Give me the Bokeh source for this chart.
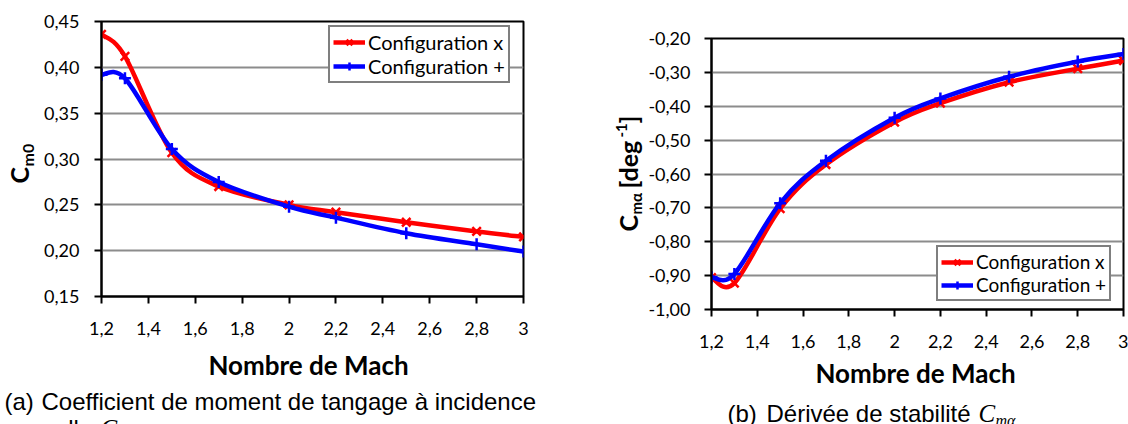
import math
from bokeh.plotting import figure
from bokeh.models import (Range1d, FixedTicker, CustomJSTickFormatter,
                          Legend, LegendItem)
from bokeh.core.properties import value
from bokeh.layouts import row, column
from bokeh.embed import file_html
from bokeh.resources import INLINE

# ---------------- data ----------------
mach = [1.2, 1.3, 1.5, 1.7, 2.0, 2.2, 2.5, 2.8, 3.0]
cm0_config_x = [0.436, 0.412, 0.307, 0.270, 0.250, 0.242, 0.231, 0.221, 0.215]
cm0_config_plus = [0.392, 0.388, 0.311, 0.275, 0.248, 0.236, 0.219, 0.207, 0.199]
cma_config_x = [-0.906, -0.922, -0.702, -0.572, -0.447, -0.391, -0.329, -0.289, -0.265]
cma_config_plus = [-0.905, -0.895, -0.686, -0.561, -0.434, -0.377, -0.313, -0.268, -0.246]
series_names = ["Configuration x", "Configuration +"]
x_ticks = [1.2, 1.4, 1.6, 1.8, 2.0, 2.2, 2.4, 2.6, 2.8, 3.0]
y_ticks_a = [0.15, 0.20, 0.25, 0.30, 0.35, 0.40, 0.45]
y_ticks_b = [-1.0, -0.9, -0.8, -0.7, -0.6, -0.5, -0.4, -0.3, -0.2]

RED = "#ff0000"
BLUE = "#0000ff"
GRID = "#8c8c8c"
TICK_FONT = "Lato"


def smooth_segments(xs, ys, t=1.0 / 6.0):
    """Bezier control points for an Excel-like smoothed line through the points."""
    n = len(xs)
    out = dict(x0=[], y0=[], x1=[], y1=[], cx0=[], cy0=[], cx1=[], cy1=[])
    for i in range(n - 1):
        im, ip, ipp = max(i - 1, 0), i + 1, min(i + 2, n - 1)
        out["x0"].append(xs[i]); out["y0"].append(ys[i])
        out["x1"].append(xs[ip]); out["y1"].append(ys[ip])
        out["cx0"].append(xs[i] + (xs[ip] - xs[im]) * t)
        out["cy0"].append(ys[i] + (ys[ip] - ys[im]) * t)
        out["cx1"].append(xs[ip] - (xs[ipp] - xs[i]) * t)
        out["cy1"].append(ys[ip] - (ys[ipp] - ys[i]) * t)
    return out


def style_axes(p, yticks, yfmt_code, x_standoff, y_standoff):
    p.xaxis.ticker = FixedTicker(ticks=x_ticks)
    p.xaxis.formatter = CustomJSTickFormatter(
        code="const v = Math.round(tick*10)/10; return String(v).replace('.', ',');")
    p.yaxis.ticker = FixedTicker(ticks=yticks)
    p.yaxis.formatter = CustomJSTickFormatter(code=yfmt_code)
    for ax in (p.xaxis, p.yaxis):
        ax.axis_line_color = "black"
        ax.axis_line_width = 2
        ax.major_tick_line_color = "black"
        ax.major_tick_line_width = 2
        ax.major_tick_out = 7
        ax.major_tick_in = 0
        ax.minor_tick_out = 0
        ax.minor_tick_in = 0
        ax.major_label_text_font = TICK_FONT
        ax.major_label_text_font_size = "18px"
        ax.major_label_text_color = "black"
    p.xaxis.major_label_standoff = x_standoff
    p.yaxis.major_label_standoff = y_standoff
    p.xgrid.visible = False
    p.ygrid.ticker = FixedTicker(ticks=yticks)
    p.ygrid.grid_line_color = GRID
    p.ygrid.grid_line_width = 2
    p.outline_line_color = "black"
    p.outline_line_width = 2
    p.background_fill_color = "white"
    p.border_fill_color = "white"


def draw_series(p, xs, ys, color, marker):
    seg = smooth_segments(xs, ys)
    r_line = p.bezier(x0=seg["x0"], y0=seg["y0"], x1=seg["x1"], y1=seg["y1"],
                      cx0=seg["cx0"], cy0=seg["cy0"], cx1=seg["cx1"], cy1=seg["cy1"],
                      line_color=color, line_width=4.5)
    r_mark = p.scatter(xs, ys, marker=marker, size=12, line_color=color,
                       line_width=2.5, fill_color=None)
    return r_line, r_mark


def add_text(p, fx, fy, px, py, text, size, font="Lato", style="normal",
             rotated=False, align="left"):
    # (px, py): wanted pixel position of the text baseline start; the renderer
    # draws the baseline about 0.36*size lower, so compensate here.
    d = 0.36 * size
    if rotated:
        px, angle = px - d, math.pi / 2
    else:
        py, angle = py - d, 0.0
    p.text(x=[fx(px)], y=[fy(py)], text=[text], text_font=value(font),
           text_font_size=value(f"{size}px"), text_font_style=style,
           angle=angle, text_align=align, text_baseline="alphabetic",
           text_color="black", level="overlay")


def make_legend(p, items, loc, size):
    lg = Legend(items=items, location=loc, orientation="vertical")
    lg.label_text_font = "Lato"
    lg.label_text_font_size = f"{size}px"
    lg.label_text_color = "black"
    lg.glyph_width = 32
    lg.glyph_height = 20
    lg.label_height = 20
    lg.label_standoff = 3
    lg.spacing = 0
    lg.padding = 3
    lg.margin = 0
    lg.border_line_color = "black"
    lg.border_line_width = 2
    lg.background_fill_color = "white"
    lg.background_fill_alpha = 1.0
    p.add_layout(lg)


# ---------------- left chart (a) ----------------
p1 = figure(width=560, height=424, output_backend="svg", toolbar_location=None,
            x_range=Range1d(1.2, 3.0), y_range=Range1d(0.15, 0.45),
            min_border_left=101, min_border_right=37, min_border_top=21,
            min_border_bottom=128)
style_axes(p1, y_ticks_a, "return tick.toFixed(2).replace('.', ',');", 18, 15)
a_rl, a_rm = draw_series(p1, mach, cm0_config_x, RED, "x")
b_rl, b_rm = draw_series(p1, mach, cm0_config_plus, BLUE, "cross")
make_legend(p1, [LegendItem(label=series_names[0], renderers=[a_rl, a_rm]),
                 LegendItem(label=series_names[1], renderers=[b_rl, b_rm])], (227, 213), 20)

# pixel -> data helpers (frame: x 101..523, y 21..296)
fx1 = lambda px: 1.2 + (px - 101) / 422 * 1.8
fy1 = lambda py: 0.45 - (py - 21) / 275 * 0.30
add_text(p1, fx1, fy1, 308, 374, "Nombre de Mach", 26, style="bold", align="center")
add_text(p1, fx1, fy1, 27, 183, "C", 25, style="bold", rotated=True)
add_text(p1, fx1, fy1, 33, 166, "m0", 16, style="bold", rotated=True)
add_text(p1, fx1, fy1, 4, 410, "(a)", 24, font="Liberation Sans")
add_text(p1, fx1, fy1, 41, 410, "Coefficient de moment de tangage à incidence", 24,
         font="Liberation Sans")
add_text(p1, fx1, fy1, 41, 437, "nulle", 24, font="Liberation Sans")
add_text(p1, fx1, fy1, 100, 437, "C", 25, font="Liberation Serif", style="italic")
add_text(p1, fx1, fy1, 116, 441, "m0", 17, font="Liberation Serif", style="italic")

# ---------------- right chart (b) ----------------
p2 = figure(width=568, height=424, output_backend="svg", toolbar_location=None,
            x_range=Range1d(1.2, 3.0), y_range=Range1d(-1.0, -0.2),
            min_border_left=151, min_border_right=5, min_border_top=38,
            min_border_bottom=115)
style_axes(p2, y_ticks_b, "return tick.toFixed(2).replace('.', ',');", 18, 14)
c_rl, c_rm = draw_series(p2, mach, cma_config_x, RED, "x")
d_rl, d_rm = draw_series(p2, mach, cma_config_plus, BLUE, "cross")
make_legend(p2, [LegendItem(label=series_names[0], renderers=[c_rl, c_rm]),
                 LegendItem(label=series_names[1], renderers=[d_rl, d_rm])], (225, 8), 19)

# pixel -> data helpers (frame: x 711..1123, y 38..309)
fx2 = lambda px: 1.2 + (px - 711) / 412 * 1.8
fy2 = lambda py: -0.2 - (py - 38) / 271 * 0.8
add_text(p2, fx2, fy2, 915, 382, "Nombre de Mach", 26, style="bold", align="center")
add_text(p2, fx2, fy2, 636, 231, "C", 25, style="bold", rotated=True)
add_text(p2, fx2, fy2, 641, 214, "mα", 15, style="bold", rotated=True)
add_text(p2, fx2, fy2, 636, 188, "[deg", 25, style="bold", rotated=True)
add_text(p2, fx2, fy2, 626, 137, "-1", 15, style="bold", rotated=True)
add_text(p2, fx2, fy2, 636, 123, "]", 25, style="bold", rotated=True)
add_text(p2, fx2, fy2, 727, 422, "(b)", 24, font="Liberation Sans")
add_text(p2, fx2, fy2, 766, 422, "Dérivée de stabilité", 24, font="Liberation Sans")
add_text(p2, fx2, fy2, 978, 422, "C", 25, font="Liberation Serif", style="italic")
add_text(p2, fx2, fy2, 995, 426, "mα", 16, font="Liberation Serif", style="italic")

layout = row(column(p1), column(p2), spacing=0)
open("out.html", "w").write(file_html(layout, INLINE))
